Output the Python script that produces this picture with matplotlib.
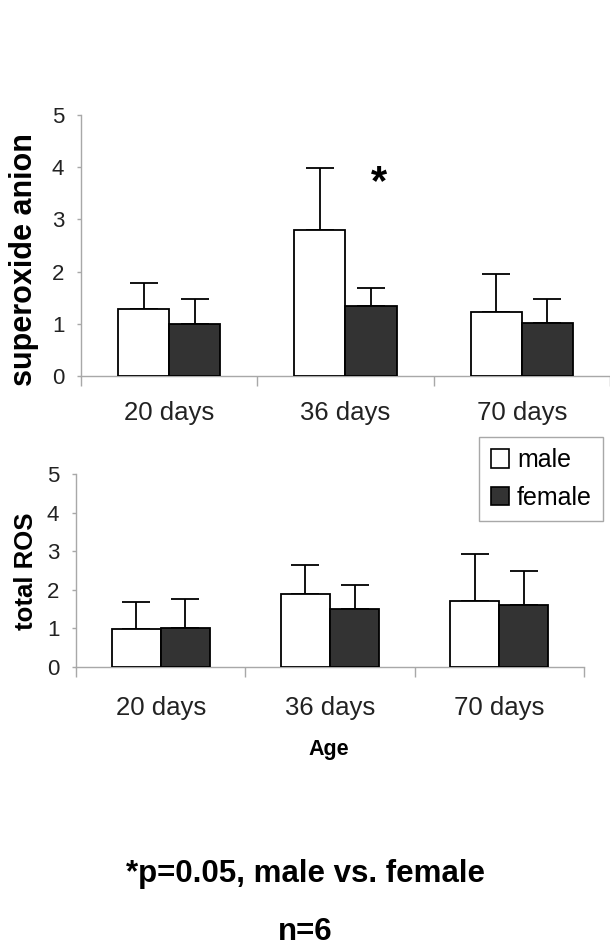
import matplotlib
matplotlib.use("Agg")
import matplotlib.pyplot as plt
import numpy as np
from matplotlib.patches import Patch

plt.rcParams['font.family'] = ['Liberation Sans', 'DejaVu Sans']

categories = ["20 days", "36 days", "70 days"]
# superoxide anion
so_male = [1.29, 2.80, 1.23]
so_male_top = [1.78, 3.99, 1.96]
so_female = [0.99, 1.34, 1.02]
so_female_top = [1.48, 1.69, 1.48]
# total ROS
ros_male = [0.99, 1.90, 1.72]
ros_male_top = [1.68, 2.63, 2.92]
ros_female = [1.00, 1.51, 1.60]
ros_female_top = [1.77, 2.12, 2.50]
yticks = [0, 1, 2, 3, 4, 5]

W, H = 610, 950
fig = plt.figure(figsize=(W / 100, H / 100), dpi=100)

def axes_px(x0, x1, y0, y1):
    return fig.add_axes([x0 / W, 1 - y1 / H, (x1 - x0) / W, (y1 - y0) / H])

ax1 = axes_px(81, 610, 115, 376)
ax2 = axes_px(76, 584, 474, 667)

FEMALE = '#333333'
AXC = '#a8a8a8'
bw = 0.29

def draw(ax, male, male_top, female, female_top, label_pad):
    x = np.arange(len(categories))
    m = np.array(male); mt = np.array(male_top)
    f = np.array(female); ft = np.array(female_top)
    ax.bar(x - bw / 2, m, bw, color='white', edgecolor='black', linewidth=1.3, zorder=3)
    ax.bar(x + bw / 2, f, bw, color=FEMALE, edgecolor='black', linewidth=1.3, zorder=3)
    ax.errorbar(x - bw / 2, m, yerr=[np.zeros_like(m), mt - m], fmt='none',
                ecolor='black', elinewidth=1.3, capsize=10, capthick=1.3, zorder=2)
    ax.errorbar(x + bw / 2, f, yerr=[np.zeros_like(f), ft - f], fmt='none',
                ecolor='black', elinewidth=1.3, capsize=10, capthick=1.3, zorder=2)
    ax.set_xlim(-0.5, 2.5)
    ax.set_ylim(0, 5)
    ax.set_yticks(yticks)
    ax.set_yticklabels([str(t) for t in yticks], fontsize=16, color='#222222')
    ax.set_xticks(x)
    ax.set_xticklabels(categories, fontsize=18.5, color='#222222')
    ax.set_xticks([-0.5, 0.5, 1.5, 2.5], minor=True)
    ax.tick_params(axis='x', which='major', length=0, pad=label_pad)
    ax.tick_params(axis='x', which='minor', length=7, width=1, color=AXC, direction='out')
    ax.tick_params(axis='y', length=3, width=1, color=AXC, pad=9)
    for s in ['top', 'right']:
        ax.spines[s].set_visible(False)
    for s in ['left', 'bottom']:
        ax.spines[s].set_color(AXC)
        ax.spines[s].set_linewidth(1)
    ax.patch.set_alpha(0)

draw(ax1, so_male, so_male_top, so_female, so_female_top, 18)
draw(ax2, ros_male, ros_male_top, ros_female, ros_female_top, 21)

ax1.text(1.19, 3.70, '*', fontsize=30, fontweight='bold', ha='center', va='center')

fig.text(24 / W, 1 - 260 / H, 'superoxide anion', rotation=90, fontsize=22,
         fontweight='bold', ha='center', va='center')
fig.text(26 / W, 1 - 571 / H, 'total ROS', rotation=90, fontsize=18.5,
         fontweight='bold', ha='center', va='center')
fig.text(329 / W, 1 - 749 / H, 'Age', fontsize=15.5, fontweight='bold',
         ha='center', va='center')
fig.text(305 / W, 1 - 874 / H, '*p=0.05, male vs. female', fontsize=22.5,
         fontweight='bold', ha='center', va='center')
fig.text(305 / W, 1 - 932 / H, 'n=6', fontsize=22.5, fontweight='bold',
         ha='center', va='center')

handles = [Patch(facecolor='white', edgecolor='black', linewidth=1.2),
           Patch(facecolor=FEMALE, edgecolor='black', linewidth=1.2)]
leg = fig.legend(handles, ['male', 'female'], loc='upper right',
                 bbox_to_anchor=(603 / W, 1 - 437 / H), fontsize=18,
                 frameon=True, fancybox=False, edgecolor=AXC, framealpha=1,
                 handlelength=0.75, handleheight=0.75, handletextpad=0.3,
                 labelspacing=0.55, borderpad=0.45, borderaxespad=0)
leg.get_frame().set_linewidth(1)

fig.savefig('out.png', dpi=100)
